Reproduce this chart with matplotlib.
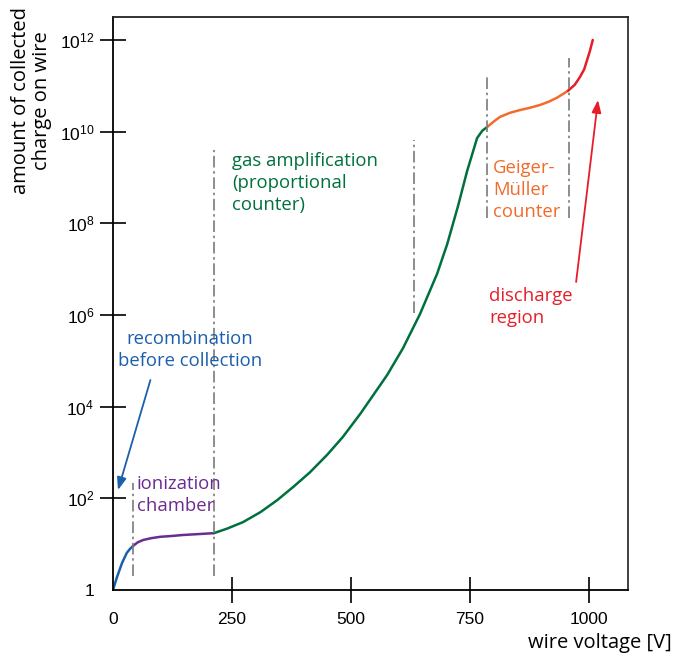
import numpy as np
import matplotlib
matplotlib.use("Agg")
import matplotlib.pyplot as plt

# ---- data (voltage [V], log10 of collected charge) ----
blue_v = [0, 8, 19, 29, 36, 42]
blue_l = [0.0, 0.27, 0.59, 0.81, 0.90, 0.96]
purple_v = [42, 52, 63, 80, 99, 125, 147, 180, 212]
purple_l = [0.96, 1.04, 1.09, 1.13, 1.16, 1.18, 1.20, 1.22, 1.24]
green_v = [212, 240, 273, 310, 345, 380, 414, 450, 483, 520, 540, 576, 609, 645, 681, 702,
           725, 744, 765, 776, 786]
green_l = [1.24, 1.34, 1.48, 1.70, 1.96, 2.26, 2.57, 2.95, 3.34, 3.85, 4.15, 4.69, 5.27,
           6.02, 6.90, 7.54, 8.38, 9.14, 9.86, 10.02, 10.10]
orange_v = [786, 800, 813, 834, 855, 876, 897, 915, 933, 956]
orange_l = [10.10, 10.22, 10.32, 10.41, 10.47, 10.52, 10.58, 10.65, 10.74, 10.89]
red_v = [956, 970, 981, 990, 996, 1002, 1008]
red_l = [10.89, 11.02, 11.19, 11.36, 11.56, 11.76, 12.0]

# region boundaries: voltage, log bottom, log top
bound_v = [42, 212, 632, 786, 958]
bound_lo = [0.305, 0.305, 6.04, 8.12, 8.12]
bound_hi = [2.33, 9.6, 9.82, 11.2, 11.6]

x_ticks = [0, 250, 500, 750, 1000]
y_exp = [0, 2, 4, 6, 8, 10, 12]

C_BLUE = "#1b5fab"
C_PURPLE = "#6a2c91"
C_GREEN = "#00703c"
C_ORANGE = "#f26b2a"
C_RED = "#e61e2a"
C_GRAY = "#7a7a7a"

plt.rcParams["mathtext.fontset"] = "custom"
plt.rcParams["mathtext.rm"] = "Liberation Sans"
plt.rcParams["mathtext.it"] = "Liberation Sans"

fig = plt.figure(figsize=(6.74, 6.64), dpi=100)
ax = fig.add_axes([113/674, 74/664, (628-113)/674, (590-17)/664])
ax.set_yscale("log")
ax.set_xlim(0, 1082)
ax.set_ylim(1, 10**12.5)

def pw(l):
    return [10**v for v in l]

lw = 1.8
for xs, ls, c in [(blue_v, blue_l, C_BLUE), (purple_v, purple_l, C_PURPLE),
                  (green_v, green_l, C_GREEN), (orange_v, orange_l, C_ORANGE),
                  (red_v, red_l, C_RED)]:
    ax.plot(xs, pw(ls), color=c, lw=lw, solid_capstyle="round", solid_joinstyle="round")

for v, lo, hi in zip(bound_v, bound_lo, bound_hi):
    ax.plot([v, v], [10**lo, 10**hi], color=C_GRAY, lw=1.2,
            linestyle=(0, (7, 2.2, 1.5, 2.2)))

# arrows
ax.annotate("", xy=(10.5, 10**2.18), xytext=(78.6, 10**4.58),
            arrowprops=dict(arrowstyle="-|>,head_length=0.75,head_width=0.28",
                            color=C_BLUE, lw=1.3, shrinkA=0, shrinkB=0))
ax.annotate("", xy=(1019, 10**10.69), xytext=(973, 10**6.72),
            arrowprops=dict(arrowstyle="-|>,head_length=0.75,head_width=0.28",
                            color=C_RED, lw=1.3, shrinkA=0, shrinkB=0))

tf = dict(family="Open Sans", fontsize=13.3, linespacing=1.3)
ax.text(162, 10**5.24, "recombination\nbefore collection", color=C_BLUE,
        ha="center", va="center", multialignment="center", **tf)
ax.text(50, 10**2.07, "ionization\nchamber", color=C_PURPLE,
        ha="left", va="center", **tf)
ax.text(250, 10**8.88, "gas amplification\n(proportional\ncounter)", color=C_GREEN,
        ha="left", va="center", **tf)
ax.text(798, 10**8.73, "Geiger-\nMüller\ncounter", color=C_ORANGE,
        ha="left", va="center", **tf)
ax.text(790, 10**6.17, "discharge\nregion", color=C_RED,
        ha="left", va="center", **tf)

# ticks
ax.set_xticks(x_ticks)
ax.set_xticklabels([str(t) for t in x_ticks], family="Liberation Sans", fontsize=12.5)
ax.set_yticks([10.0**e for e in y_exp])
ax.set_yticklabels(["1" if e == 0 else r"$10^{%d}$" % e for e in y_exp],
                   family="Liberation Sans", fontsize=12.5)
ax.yaxis.set_minor_locator(matplotlib.ticker.NullLocator())
ax.tick_params(axis="both", direction="inout", length=19, width=1.2, color="black")
ax.tick_params(axis="x", pad=6)
ax.tick_params(axis="y", pad=4)
ax.xaxis.get_major_ticks()[0].tick1line.set_visible(False)
ax.yaxis.get_major_ticks()[0].tick1line.set_visible(False)

for s in ax.spines.values():
    s.set_linewidth(1.3)
    s.set_color("black")
ax.spines["right"].set_color("#333333")
ax.spines["top"].set_color("#222222")

fig.text(0.047, 0.848, "amount of collected\ncharge on wire", rotation=90,
         family="Open Sans", fontsize=14.5, ha="center", va="center",
         linespacing=1.05, multialignment="center")
fig.text(0.997, 0.032, "wire voltage [V]", family="Open Sans", fontsize=14.5,
         ha="right", va="center")

fig.savefig("out.png", dpi=100)
